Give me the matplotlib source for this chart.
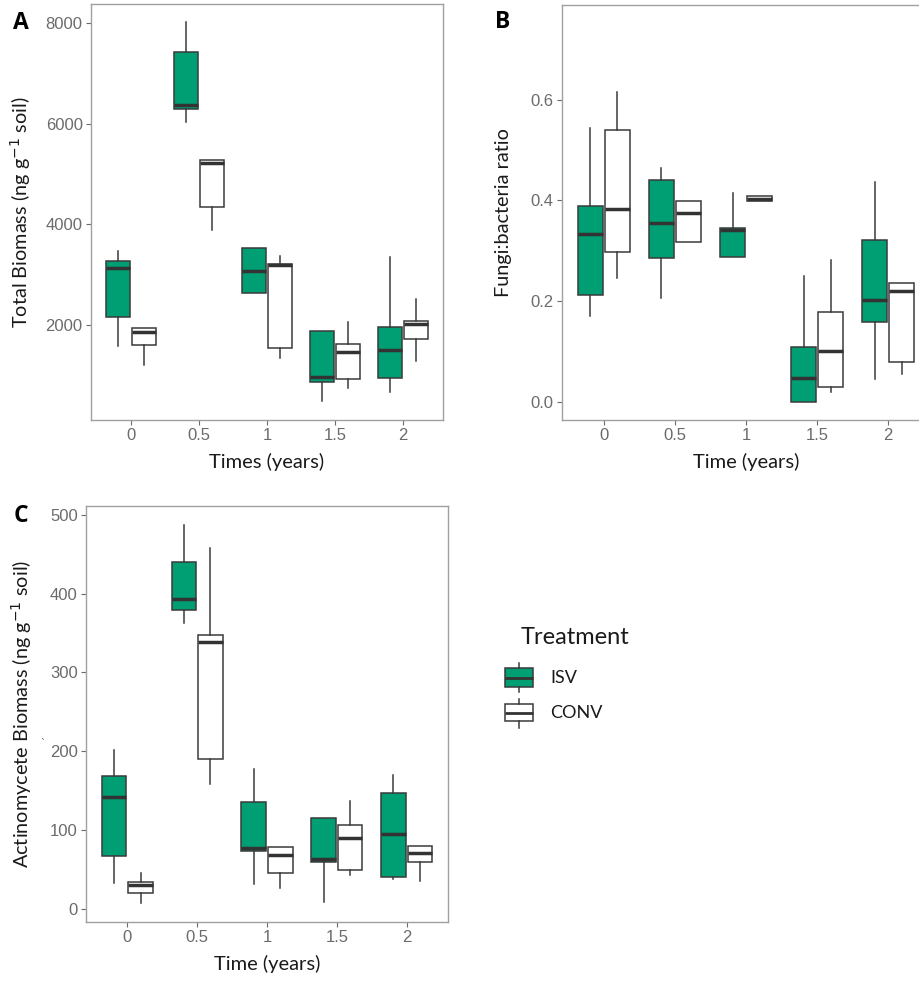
import numpy as np
import matplotlib
matplotlib.use("Agg")
import matplotlib.pyplot as plt

# time points (categories)
times = ['0', '0.5', '1', '1.5', '2']
treatments = ['ISV', 'CONV']
colors = {'ISV': '#009E73', 'CONV': '#FFFFFF'}

# box stats: (whislo, q1, med, q3, whishi)
total_isv = [(1582, 2166, 3140, 3266, 3478), (6038, 6289, 6369, 7417, 8013),
             (2643, 2643, 3081, 3538, 3538), (488, 873, 972, 1880, 1880),
             (674, 939, 1503, 1967, 3352)]
total_conv = [(1204, 1595, 1854, 1934, 1934), (3889, 4340, 5222, 5275, 5275),
              (1350, 1536, 3193, 3213, 3379), (753, 919, 1469, 1622, 2053),
              (1284, 1715, 2020, 2086, 2517)]

fb_isv = [(0.170, 0.212, 0.333, 0.389, 0.544), (0.207, 0.285, 0.356, 0.440, 0.465),
          (0.288, 0.288, 0.341, 0.345, 0.415), (0.000, 0.000, 0.047, 0.109, 0.250),
          (0.045, 0.158, 0.202, 0.322, 0.436)]
fb_conv = [(0.246, 0.298, 0.382, 0.539, 0.615), (0.318, 0.318, 0.376, 0.399, 0.399),
           (0.399, 0.399, 0.403, 0.408, 0.408), (0.020, 0.030, 0.101, 0.179, 0.282),
           (0.055, 0.080, 0.220, 0.237, 0.237)]

act_isv = [(33, 67, 142, 169, 202), (363, 379, 393, 440, 487),
           (32, 74, 77, 136, 177), (9, 60, 63, 115, 115),
           (38, 41, 95, 147, 170)]
act_conv = [(7, 20, 30, 34, 46), (159, 190, 338, 347, 458),
            (27, 46, 68, 79, 79), (43, 50, 90, 106, 137),
            (35, 59, 71, 80, 80)]

W, H = 919, 981
fig = plt.figure(figsize=(W / 100, H / 100), dpi=100)

TITLE_FONT = 'Lato'
TICK_FONT = 'Liberation Sans'


def px_axes(x0, y0, x1, y1):
    return fig.add_axes([x0 / W, 1 - y1 / H, (x1 - x0) / W, (y1 - y0) / H])


def make_stats(rows):
    return [dict(whislo=r[0], q1=r[1], med=r[2], q3=r[3], whishi=r[4], fliers=[]) for r in rows]


def draw_panel(ax, isv, conv, ylim, yticks, yfmt, ylabel, xlabel, ylab_x):
    x = np.arange(len(times))
    for data, off, tr in [(isv, -0.19, 'ISV'), (conv, 0.19, 'CONV')]:
        ax.bxp(make_stats(data), positions=x + off, widths=0.35, patch_artist=True,
               showcaps=False, showfliers=False,
               boxprops=dict(facecolor=colors[tr], edgecolor='#3a3a3a', linewidth=1.1),
               medianprops=dict(color='#333333', linewidth=2.5, solid_capstyle='butt'),
               whiskerprops=dict(color='#3a3a3a', linewidth=1.1))
    ax.set_xlim(-0.59, 4.59)
    ax.set_ylim(*ylim)
    ax.set_xticks(x)
    ax.set_xticklabels(times)
    ax.set_yticks(yticks)
    ax.set_yticklabels([yfmt.format(v) for v in yticks])
    for lab in ax.get_xticklabels() + ax.get_yticklabels():
        lab.set_fontfamily(TICK_FONT)
        lab.set_fontsize(12)
        lab.set_color('#6b6b6b')
    ax.tick_params(length=3.5, width=0.8, color='#6b6b6b', pad=2.5)
    for s in ax.spines.values():
        s.set_color('#a0a0a0')
        s.set_linewidth(1.0)
    ax.set_ylabel(ylabel, fontfamily=TITLE_FONT, fontsize=14.3, color='#1a1a1a')
    ax.yaxis.set_label_coords(ylab_x, 0.5)
    ax.set_xlabel(xlabel, fontfamily=TITLE_FONT, fontsize=14.5, color='#1a1a1a', labelpad=7)


axA = px_axes(91, 4, 443, 420)
draw_panel(axA, total_isv, total_conv, (113, 8377), [2000, 4000, 6000, 8000], '{:d}',
           'Total Biomass (ng g$^{-1}$ soil)', 'Times (years)', -0.165)

axB = px_axes(562, 5, 930, 420)
draw_panel(axB, fb_isv, fb_conv, (-0.036, 0.788), [0.0, 0.2, 0.4, 0.6], '{:.1f}',
           'Fungi:bacteria ratio', 'Time (years)', -0.136)

axC = px_axes(86, 506, 448, 922)
draw_panel(axC, act_isv, act_conv, (-16.5, 511), [0, 100, 200, 300, 400, 500], '{:d}',
           'Actinomycete Biomass (ng g$^{-1}$ soil)', 'Time (years)', -0.144)

# panel letters
for lab, (px, py) in zip(['A', 'B', 'C'], [(13, 23), (495, 22), (14, 516)]):
    fig.text(px / W, 1 - py / H, lab, fontfamily='Open Sans', fontweight='bold',
             fontsize=16.5, va='center', ha='left', color='black')

# stray mark left of the "200" tick label in panel C
fig.text(43 / W, 1 - 744 / H, '`', fontsize=7, color='#555555', ha='center', va='center')

# legend drawn as a small axes with mini boxplots
leg = px_axes(490, 615, 700, 740)
leg.set_xlim(490, 700)
leg.set_ylim(740, 615)
leg.axis('off')
key_rows = {'ISV': (692, 687, 677.5, 668, 663), 'CONV': (728, 721, 712.5, 704, 699)}
for tr in treatments:
    leg.bxp(make_stats([key_rows[tr]]), positions=[519], widths=28, patch_artist=True,
            showcaps=False, showfliers=False, manage_ticks=False,
            boxprops=dict(facecolor=colors[tr], edgecolor='#3a3a3a', linewidth=1.1),
            medianprops=dict(color='#333333', linewidth=2.0),
            whiskerprops=dict(color='#3a3a3a', linewidth=1.1))
    leg.text(550, key_rows[tr][2], tr, fontfamily=TITLE_FONT, fontsize=13,
             va='center', ha='left', color='#1a1a1a')
leg.text(521, 637, 'Treatment', fontfamily=TITLE_FONT, fontsize=17,
         va='center', ha='left', color='#1a1a1a')

fig.savefig('out.png', dpi=100)
